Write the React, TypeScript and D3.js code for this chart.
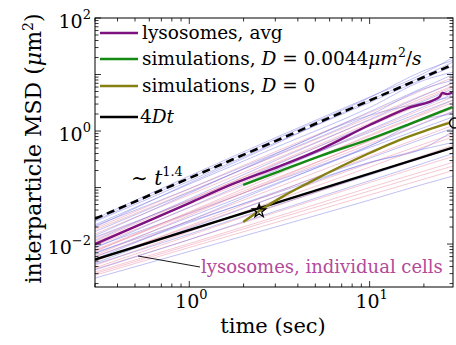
import React from 'react';
import * as d3 from 'd3';

const W = 456;
const H = 345;
const plot = { left: 95, right: 453, top: 18, bottom: 287 };

// individual cells, sampled at these times (sec)
const cellTimes = [0.3, 1, 3, 10, 20, 29];
const cellValues = [
  [0.028, 0.16, 0.76, 4.0, 10.5, 20],
  [0.026, 0.145, 0.71, 3.9, 11.7, 17.8],
  [0.025, 0.13, 0.62, 3.2, 8.5, 14],
  [0.022, 0.115, 0.51, 2.6, 7.9, 11],
  [0.021, 0.095, 0.40, 1.9, 3.2, 4.0],
  [0.020, 0.12, 0.59, 3.5, 9.5, 16.6],
  [0.019, 0.095, 0.43, 2.1, 5.4, 8.9],
  [0.0178, 0.085, 0.36, 1.74, 4.4, 7.1],
  [0.0166, 0.083, 0.37, 1.9, 5.6, 7.9],
  [0.0151, 0.074, 0.32, 1.55, 3.9, 6.3],
  [0.0141, 0.079, 0.39, 2.2, 5.9, 10],
  [0.0132, 0.058, 0.22, 0.95, 2.24, 3.55],
  [0.0126, 0.060, 0.26, 1.23, 3.1, 5.0],
  [0.0117, 0.063, 0.30, 1.6, 4.3, 7.1],
  [0.0112, 0.059, 0.27, 1.38, 3.6, 6.0],
  [0.0107, 0.051, 0.21, 1.0, 2.5, 4.0],
  [0.010, 0.052, 0.25, 1.3, 3.4, 5.6],
  [0.0093, 0.044, 0.18, 0.81, 2.0, 3.2],
  [0.0089, 0.035, 0.129, 0.51, 1.15, 1.78],
  [0.0085, 0.045, 0.20, 1.05, 2.7, 4.5],
  [0.0079, 0.036, 0.145, 0.66, 1.6, 2.5],
  [0.0076, 0.034, 0.132, 0.59, 1.41, 2.24],
  [0.0074, 0.037, 0.166, 0.85, 2.1, 3.5],
  [0.0071, 0.025, 0.079, 0.275, 0.48, 0.63],
  [0.0068, 0.030, 0.117, 0.54, 1.6, 2.0],
  [0.0063, 0.032, 0.138, 0.68, 1.74, 2.8],
  [0.0060, 0.024, 0.083, 0.33, 0.74, 1.12],
  [0.0059, 0.026, 0.098, 0.43, 1.0, 1.58],
  [0.0054, 0.026, 0.112, 0.55, 1.38, 2.2],
  [0.0052, 0.020, 0.069, 0.27, 0.59, 0.89],
  [0.0050, 0.021, 0.081, 0.35, 0.81, 1.26],
  [0.0046, 0.019, 0.069, 0.28, 0.50, 1.0],
  [0.0044, 0.015, 0.048, 0.166, 0.34, 0.50],
  [0.0042, 0.0166, 0.059, 0.23, 0.52, 0.79],
  [0.0038, 0.0141, 0.047, 0.174, 0.37, 0.56],
  [0.0036, 0.012, 0.036, 0.123, 0.245, 0.355],
  [0.0035, 0.012, 0.038, 0.132, 0.27, 0.40],
  [0.0032, 0.0102, 0.030, 0.10, 0.195, 0.28],
  [0.0030, 0.0095, 0.0275, 0.087, 0.17, 0.24],
  [0.0028, 0.0087, 0.024, 0.074, 0.141, 0.20],
  [0.0025, 0.0074, 0.020, 0.060, 0.115, 0.16],
];
const cellKinds = ['b', 'b', 'b', 'b', 'b', 'b', 'p', 'p', 'b', 'p', 'b', 'b', 'p', 'b', 'p', 'p',
  'b', 'p', 'b', 'b', 'p', 'p', 'p', 'b', 'b', 'p', 'b', 'p', 'b', 'p', 'p', 'b', 'b', 'p', 'p',
  'p', 'b', 'p', 'p', 'p', 'b'];

const avgTimes = [0.3, 1, 1.69, 3.18, 5.3, 10, 16, 24.4, 25.3, 27, 28.8];
const avgValues = [0.010, 0.053, 0.111, 0.24, 0.47, 1.28, 2.5, 4.0, 4.7, 4.5, 4.8];

const simDTimes = [1.99, 3.18, 5.3, 10, 16.6, 28.8];
const simDValues = [0.111, 0.196, 0.361, 0.72, 1.33, 2.66];

const sim0Times = [1.99, 2.44, 3.18, 4.66, 6.83, 10, 14.6, 20.1, 27.7];
const sim0Values = [0.0245, 0.0384, 0.065, 0.125, 0.231, 0.408, 0.693, 1.0, 1.39];

const guideTimes = [0.3, 29];
const guideValues = [0.028, 15];
const diffTimes = [0.3, 29];
const diffValues = [0.0053, 0.51];

const starPoint = [2.44, 0.0384];
const circlePoint = [29.6, 1.39];

const xTickLabels = [{ v: 1, e: '0' }, { v: 10, e: '1' }];
const yTickLabels = [{ v: 0.01, e: '−2' }, { v: 1, e: '0' }, { v: 100, e: '2' }];

const x = d3.scaleLog().domain([0.3, 29]).range([plot.left, plot.right]);
const y = d3.scaleLog().domain([Math.pow(10, -2.76), 100]).range([plot.bottom, plot.top]);

const line = d3.line<number[]>()
  .x(d => x(d[0]))
  .y(d => y(d[1]))
  .curve(d3.curveMonotoneX);

const pairs = (ts: number[], vs: number[]) => ts.map((t, i) => [t, vs[i]]);

const FONT = '"DejaVu Serif", "Liberation Serif", serif';

function logTicks(domain: number[]) {
  const out: { v: number; major: boolean }[] = [];
  for (let e = -3; e <= 2; e++) {
    for (let m = 1; m <= 9; m++) {
      const v = m * Math.pow(10, e);
      if (v >= domain[0] * 0.999 && v <= domain[1] * 1.001) out.push({ v, major: m === 1 });
    }
  }
  return out;
}

function star(cx: number, cy: number, r: number) {
  const pts: string[] = [];
  for (let i = 0; i < 10; i++) {
    const a = -Math.PI / 2 + (i * Math.PI) / 5;
    const rr = i % 2 === 0 ? r : r * 0.4;
    pts.push(`${cx + rr * Math.cos(a)},${cy + rr * Math.sin(a)}`);
  }
  return pts.join(' ');
}

export default function App() {
  const xt = logTicks(x.domain());
  const yt = logTicks(y.domain());
  const legendRows = [
    { y: 33, color: '#7e1180' },
    { y: 59, color: '#128a12' },
    { y: 86, color: '#858010' },
    { y: 117, color: '#000' },
  ];
  const sp = [x(starPoint[0]), y(starPoint[1])];

  return (
    <svg width={W} height={H} style={{ position: 'absolute', left: 0, top: 0, background: '#fff' }}
      fontFamily={FONT}>
      <defs>
        <clipPath id="plotclip">
          <rect x={plot.left} y={plot.top} width={plot.right - plot.left} height={plot.bottom - plot.top} />
        </clipPath>
      </defs>

      <g clipPath="url(#plotclip)" fill="none">
        {cellValues.map((vals, i) => (
          <path key={i} d={line(pairs(cellTimes, vals)) || ''}
            stroke={cellKinds[i] === 'b' ? 'rgba(115,115,230,0.5)' : 'rgba(232,120,145,0.45)'}
            strokeWidth={0.9} />
        ))}
        <path d={line(pairs(guideTimes, guideValues)) || ''} stroke="#000" strokeWidth={2.6}
          strokeDasharray="8,5" />
        <path d={line(pairs(diffTimes, diffValues)) || ''} stroke="#000" strokeWidth={2.4} />
        <path d={line(pairs(avgTimes, avgValues)) || ''} stroke="#7e1180" strokeWidth={2.4} />
        <path d={line(pairs(simDTimes, simDValues)) || ''} stroke="#128a12" strokeWidth={2.4} />
        <path d={line(pairs(sim0Times, sim0Values)) || ''} stroke="#858010" strokeWidth={2.4} />
      </g>

      <polygon points={star(sp[0], sp[1], 7)} fill="none" stroke="#000" strokeWidth={1.3} />
      <circle cx={x(circlePoint[0])} cy={y(circlePoint[1])} r={5} fill="none" stroke="#000" strokeWidth={1.4} />

      {/* frame and ticks */}
      <rect x={plot.left} y={plot.top} width={plot.right - plot.left} height={plot.bottom - plot.top}
        fill="none" stroke="#000" strokeWidth={1} />
      {xt.map((t, i) => {
        const len = t.major ? 6 : 3.5;
        const px = x(t.v);
        return (
          <g key={'x' + i} stroke="#000" strokeWidth={0.8}>
            <line x1={px} x2={px} y1={plot.bottom} y2={plot.bottom - len} />
            <line x1={px} x2={px} y1={plot.top} y2={plot.top + len} />
          </g>
        );
      })}
      {yt.map((t, i) => {
        const len = t.major ? 6 : 3.5;
        const py = y(t.v);
        return (
          <g key={'y' + i} stroke="#000" strokeWidth={0.8}>
            <line x1={plot.left} x2={plot.left + len} y1={py} y2={py} />
            <line x1={plot.right} x2={plot.right - len} y1={py} y2={py} />
          </g>
        );
      })}

      {xTickLabels.map((t, i) => (
        <text key={'xl' + i} x={x(t.v) + 2} y={308} fontSize={19} textAnchor="middle">
          10<tspan dy={-9} fontSize={13}>{t.e}</tspan>
        </text>
      ))}
      {yTickLabels.map((t, i) => (
        <text key={'yl' + i} x={plot.left - 4} y={y(t.v) + 10} fontSize={19} textAnchor="end">
          10<tspan dy={-9} fontSize={13}>{t.e}</tspan>
        </text>
      ))}

      <text x={273} y={333} fontSize={21} textAnchor="middle">time (sec)</text>
      <text transform={`translate(41,${(plot.top + plot.bottom) / 2 - 4}) rotate(-90)`} fontSize={22}
        textAnchor="middle">
        interparticle MSD (<tspan fontStyle="italic">μ</tspan>m<tspan dy={-8} fontSize={14}>2</tspan>
        <tspan dy={8}>)</tspan>
      </text>

      {/* legend */}
      {legendRows.map((r, i) => (
        <line key={'lg' + i} x1={100} x2={138} y1={r.y} y2={r.y} stroke={r.color} strokeWidth={2.6} />
      ))}
      <text x={142} y={39} fontSize={18.5}>lysosomes, avg</text>
      <text x={142} y={65} fontSize={18.5}>
        simulations, <tspan fontStyle="italic">D</tspan> = 0.0044<tspan fontStyle="italic">μm</tspan>
        <tspan dy={-8} fontSize={12.5}>2</tspan><tspan dy={8}>/</tspan><tspan fontStyle="italic">s</tspan>
      </text>
      <text x={142} y={92} fontSize={18.5}>
        simulations, <tspan fontStyle="italic">D</tspan> = 0
      </text>
      <text x={140} y={123} fontSize={18.5}>
        4<tspan fontStyle="italic">Dt</tspan>
      </text>

      {/* annotations */}
      <text x={131} y={185} fontSize={20}>
        ∼ <tspan fontStyle="italic">t</tspan><tspan dy={-9} fontSize={13}>1.4</tspan>
      </text>
      <line x1={138} y1={256} x2={200} y2={267} stroke="#000" strokeWidth={0.9} />
      <text x={201} y={273} fontSize={18} fill="#b24a9b">lysosomes, individual cells</text>
    </svg>
  );
}
